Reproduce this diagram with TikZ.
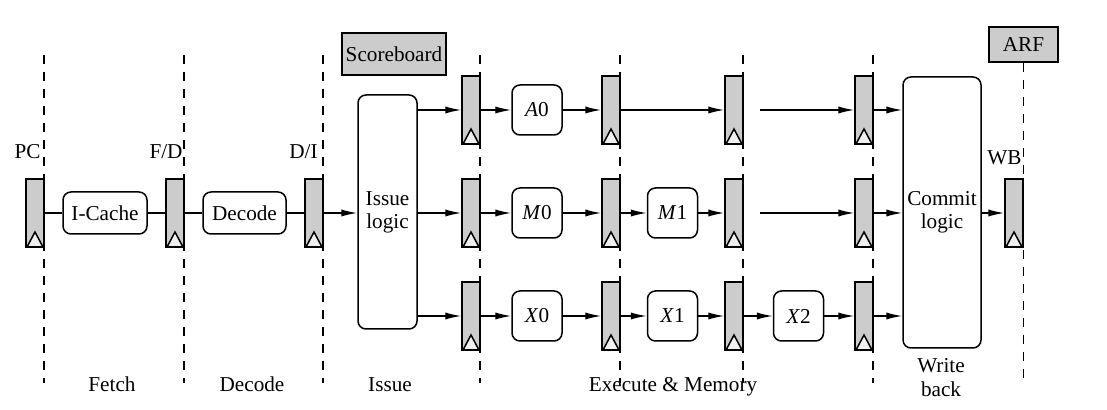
\documentclass[tikz,border=0pt]{standalone}
\usepackage{fontspec}
\setmainfont{Liberation Serif}
\usetikzlibrary{arrows.meta}
\begin{document}
\begin{tikzpicture}[x=0.5pt,y=-0.5pt,
  font=\fontsize{10.6pt}{11.5pt}\selectfont,
  reg/.style={draw, line width=0.75pt, fill=gray!40, minimum width=9pt, minimum height=34pt, inner sep=0pt,
    path picture={\draw[line width=0.75pt, fill=gray!12]
      ([xshift=0.5pt]path picture bounding box.south west) --
      ([xshift=-0.5pt]path picture bounding box.south east) --
      ([yshift=7.5pt]path picture bounding box.south) -- cycle;}},
  stagebox/.style={draw, rounded corners=4pt, line width=0.75pt, inner sep=0pt, align=center},
  sq/.style={stagebox, minimum width=25pt, minimum height=25pt},
  gbox/.style={draw, fill=gray!40, line width=0.75pt, inner sep=0pt},
  arr/.style={line width=0.7pt, -{Latex[length=8pt,width=3.6pt]}},
  ln/.style={line width=0.7pt},
  stageline/.style={line width=0.8pt, dash pattern=on 4.5pt off 4pt},
  lbl/.style={inner sep=0pt, align=center, anchor=base}]
\useasboundingbox (0,0) rectangle (1107,410);

% top boxes
\node[gbox, minimum width=52pt, minimum height=21pt] (sb) at (394,54) {Scoreboard};
\node[gbox, minimum width=34.5pt, minimum height=17.5pt] (arf) at (1023.5,44.5) {ARF};

% stage boundaries
\foreach \xx in {44,184,323,480,620,743,873} {
  \draw[stageline] (\xx,55) -- (\xx,383);
}
\draw[stageline] (arf.south) -- ++(0,321);

% labels
\node[lbl] (lpc) at (27.5,159) {PC};
\node[lbl] (lfd) at (166,159) {F/D};
\node[lbl] (ldi) at (303.5,159) {D/I};
\node[lbl] (lwb) at (1004.5,165) {WB};
\node[lbl] (lfetch) at (112,392) {Fetch};
\node[lbl] (ldecode) at (252,392) {Decode};
\node[lbl] (lissue) at (390,392) {Issue};
\node[lbl] (lexec) at (673,392) {Execute \& Memory};
\node[lbl] (lwrite) at (941,373) {Write};
\node[lbl] (lback) at (941,397) {back};

% stage boxes
\node[stagebox, minimum width=42pt, minimum height=21pt] (icache) at (105,213) {I-Cache};
\node[stagebox, minimum width=41.5pt, minimum height=21pt] (decode) at (244.5,213) {Decode};
\node[stagebox, minimum width=29.5pt, minimum height=117pt] (issue) at (387.5,212) {Issue\\logic};
\node[stagebox, minimum width=39pt, minimum height=135.5pt] (commit) at (942,212.5) {Commit\\logic};
\node[sq] (a0) at (537,110) {\textit{A}0};
\node[sq] (m0) at (537,213) {\textit{M}0};
\node[sq] (x0) at (537,316) {\textit{X}0};
\node[sq] (m1) at (672.5,213) {\textit{M}1};
\node[sq] (x1) at (672.5,316) {\textit{X}1};
\node[sq] (x2) at (798.5,316) {\textit{X}2};

% registers
\node[reg] (pc) at (35,213) {};
\node[reg] (fd) at (175,213) {};
\node[reg] (di) at (314,213) {};
\node[reg] (r11) at (471,110) {};
\node[reg] (r12) at (471,213) {};
\node[reg] (r13) at (471,316) {};
\node[reg] (r21) at (611,110) {};
\node[reg] (r22) at (611,213) {};
\node[reg] (r23) at (611,316) {};
\node[reg] (r31) at (734,110) {};
\node[reg] (r32) at (734,213) {};
\node[reg] (r33) at (734,316) {};
\node[reg] (r41) at (864,110) {};
\node[reg] (r42) at (864,213) {};
\node[reg] (r43) at (864,316) {};
\node[reg] (wb) at (1014,213) {};

% connectors
\draw[ln] (pc) -- (icache);
\draw[ln] (icache) -- (fd);
\draw[ln] (fd) -- (decode);
\draw[ln] (decode) -- (di);
\draw[arr] (di.east) -- (di.east -| issue.west);
\foreach \r in {r11,r12,r13} {
  \draw[arr] (issue.east |- \r) -- (\r.west);
}
\draw[arr] (r11) -- (a0);
\draw[arr] (r12) -- (m0);
\draw[arr] (r13) -- (x0);
\draw[arr] (a0) -- (r21);
\draw[arr] (m0) -- (r22);
\draw[arr] (x0) -- (r23);
\draw[arr] (r21) -- (r31);
\draw[arr] (r22) -- (m1);
\draw[arr] (r23) -- (x1);
\draw[arr] (m1) -- (r32);
\draw[arr] (x1) -- (r33);
\draw[arr] (r33) -- (x2);
\draw[arr] (x2) -- (r43);
\coordinate (s1) at (760,110);
\coordinate (s2) at (760,213);
\draw[arr] (s1) -- (r41);
\draw[arr] (s2) -- (r42);
\foreach \r in {r41,r42,r43} {
  \draw[arr] (\r.east) -- (\r.east -| commit.west);
}
\draw[arr] (commit.east |- wb) -- (wb.west);
\end{tikzpicture}
\end{document}
